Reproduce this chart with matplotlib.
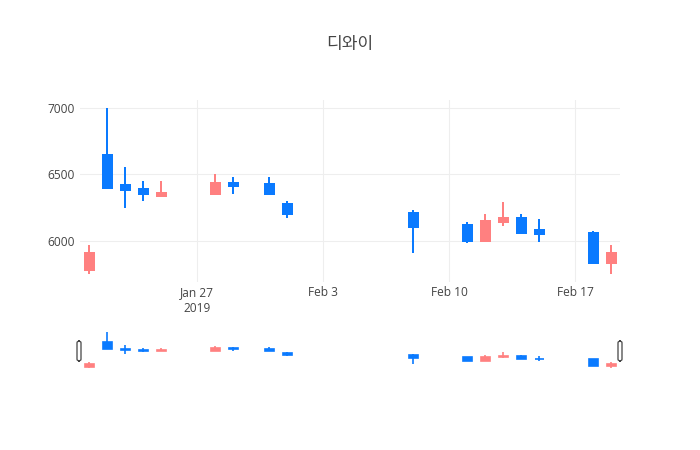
import matplotlib
matplotlib.use("Agg")
import matplotlib.pyplot as plt
import matplotlib.dates as mdates
from matplotlib.patches import FancyBboxPatch
import numpy as np
import pandas as pd

title = "디와이"
dates = ["2019-01-21", "2019-01-22", "2019-01-23", "2019-01-24", "2019-01-25",
         "2019-01-28", "2019-01-29", "2019-01-31", "2019-02-01", "2019-02-08",
         "2019-02-11", "2019-02-12", "2019-02-13", "2019-02-14", "2019-02-15",
         "2019-02-18", "2019-02-19"]
opens = [5780, 6650, 6420, 6390, 6340, 6355, 6435, 6425, 6280, 6210, 6120, 6000, 6140, 6170, 6080, 6060, 5830]
highs = [5970, 7000, 6560, 6450, 6450, 6500, 6480, 6480, 6300, 6230, 6140, 6200, 6290, 6200, 6160, 6070, 5970]
lows = [5750, 6400, 6250, 6300, 6330, 6350, 6350, 6355, 6170, 5910, 5980, 6000, 6110, 6060, 5990, 5830, 5750]
closes = [5910, 6400, 6380, 6350, 6360, 6435, 6415, 6355, 6200, 6100, 6000, 6150, 6170, 6060, 6050, 5830, 5910]
xtick_dates = ["2019-01-27", "2019-02-03", "2019-02-10", "2019-02-17"]
xtick_labels = ["Jan 27\n2019", "Feb 3", "Feb 10", "Feb 17"]
yticks = [6000, 6500, 7000]

INC = "#FF8080"
DEC = "#0A7AFF"
W, H = 700, 450
fig = plt.figure(figsize=(7, 4.5), dpi=100)
fig.patch.set_facecolor("white")

def px_axes(l, t, r, b):
    return fig.add_axes([l / W, (H - b) / H, (r - l) / W, (b - t) / H])

ax = px_axes(80, 100, 620, 282)
sl = px_axes(80, 330, 620, 370)

x = mdates.date2num(pd.to_datetime(dates))
o = np.array(opens, float); c = np.array(closes, float)
hi = np.array(highs, float); lo = np.array(lows, float)
cols = [INC if cc >= oo else DEC for oo, cc in zip(o, c)]

ymin = min(lows); ymax = max(highs)
pad = (ymax - ymin) * 0.05
ylim = (ymin - pad, ymax + pad)
xlim = (mdates.date2num(pd.Timestamp("2019-01-20 12:00")),
        mdates.date2num(pd.Timestamp("2019-02-19 12:00")))

def draw(a, lw):
    a.vlines(x, lo, hi, colors=cols, linewidth=lw, zorder=2)
    bottoms = np.minimum(o, c)
    heights = np.abs(c - o)
    a.bar(x, heights, width=0.5, bottom=bottoms, color=cols, edgecolor=cols,
          linewidth=lw, zorder=3)

draw(ax, 1.44)
draw(sl, 1.2)

for a in (ax, sl):
    a.set_xlim(*xlim)
    a.set_ylim(*ylim)
    for s in a.spines.values():
        s.set_visible(False)

ax.set_xticks(mdates.date2num(pd.to_datetime(xtick_dates)))
ax.set_xticklabels(xtick_labels, fontsize=8.6, color="#444444", family="Open Sans",
                   linespacing=1.25)
ax.set_yticks(yticks)
ax.set_yticklabels([str(v) for v in yticks], fontsize=8.6, color="#444444", family="Open Sans")
ax.tick_params(length=0, pad=3)
ax.tick_params(axis="y", pad=4)
ax.grid(True, color="#eeeeee", linewidth=0.8, zorder=0)
ax.set_axisbelow(True)

sl.set_xticks([]); sl.set_yticks([])

# range slider handles
for hx in (77, 618):
    p = FancyBboxPatch(((hx) / W, (H - 361) / H), 4 / W, 20 / H,
                       boxstyle="round,pad=0,rounding_size=0.004",
                       transform=fig.transFigure, facecolor="white",
                       edgecolor="#444444", linewidth=0.9)
    fig.add_artist(p)

fig.text(350 / W, (H - 44) / H, title, ha="center", va="center", fontsize=12.3,
         color="#444444", family=["Noto Sans CJK KR", "DejaVu Sans"])

fig.savefig("out.png", dpi=100, facecolor="white")
